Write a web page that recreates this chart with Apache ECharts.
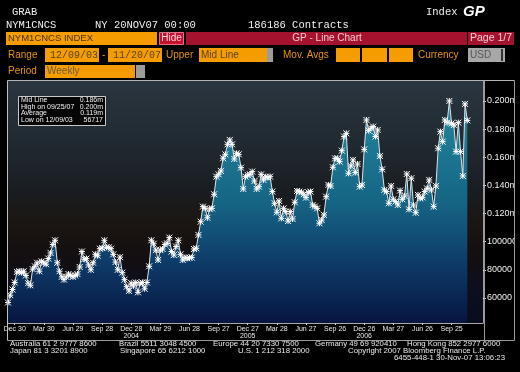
<!DOCTYPE html>
<html><head><meta charset="utf-8">
<script src="https://cdn.jsdelivr.net/npm/echarts@6/dist/echarts.min.js"></script>
<style>html,body{margin:0;padding:0;background:#000;}#c{width:520px;height:372px;}</style>
</head><body><div id="c"></div>
<script>
// ---- data ----
const startDate = '2003-12-09';          // weekly (Tuesday) observations
const axisWeeks = 213;                   // axis extent in weeks (data fills the first 207)
const contracts = [
  56717, 62000, 66000, 71000, 78500, 79000, 78000, 79000, 76000, 70500,
  69000, 80500, 82500, 85000, 79000, 86000, 85000, 84000, 88000, 92000,
  98000, 101000, 85000, 79000, 75000, 73000, 75000, 77000, 76000, 75000,
  76000, 77000, 82000, 93000, 87500, 88000, 83500, 80000, 85000, 91000,
  90000, 95000, 95500, 101000, 96000, 96000, 95000, 91000, 85500, 80000,
  89000, 78000, 73000, 68000, 65000, 70500, 68500, 71000, 64000, 70500,
  71000, 66500, 71000, 82500, 101000, 98500, 94000, 87000, 94000, 94800,
  98000, 98800, 102900, 93000, 90500, 96500, 101000, 91000, 87000, 88700,
  88200, 88700, 88700, 94800, 95300, 104800, 114200, 124900, 123700, 117000,
  123200, 123700, 133700, 146200, 147900, 150300, 159300, 162100, 169200, 172300,
  169200, 158800, 162800, 162100, 152600, 137500, 146200, 147400, 147900, 149800,
  143100, 137500, 139100, 147900, 143900, 146200, 145500, 146200, 135600, 127300,
  120900, 128900, 116600, 123700, 121400, 114700, 121400, 116100, 128000, 136000,
  135600, 135100, 133700, 131300, 135100, 135600, 126100, 125000, 123700, 113100,
  115400, 119000, 132000, 140300, 139600, 152900, 159200, 159200, 156900, 164700,
  174700, 177000, 148600, 153800, 158100, 149100, 155200, 139100, 140300, 165600,
  186500, 178900, 180600, 181800, 174700, 179400, 160900, 151400, 136800, 135600,
  127300, 139600, 130100, 128500, 126100, 136300, 130100, 132500, 148100, 123000,
  145100, 126100, 120600, 133200, 130800, 131500, 135600, 137900, 143900, 136800,
  124900, 139600, 166400, 178200, 171100, 186500, 184600, 200000, 184100, 182900,
  164000, 184600, 164000, 146700, 197900, 186186
];
const xTickFirst = 3, xTickStep = 13;
const xTickLabels = ['Dec 30','Mar 30','Jun 29','Sep 28','Dec 28\n2004','Mar 29','Jun 28','Sep 27',
  'Dec 27\n2005','Mar 28','Jun 27','Sep 26','Dec 26\n2006','Mar 27','Jun 26','Sep 25'];
const yTickValues = [60000, 80000, 100000, 120000, 140000, 160000, 180000, 200000];
const yTickLabels = ['60000','80000','100000','0.120m','0.140m','0.160m','0.180m','0.200m'];
const statsLabels = ['Mid Line','High on 09/25/07','Average','Low on 12/09/03'];
const statsValues = ['0.186m','0.200m','0.119m','56717'];

// ---- categories ----
const weeks = [];
const d0 = new Date(startDate + 'T00:00:00Z');
for (let i = 0; i < axisWeeks; i++) {
  weeks.push(new Date(d0.getTime() + i * 7 * 864e5).toISOString().slice(0, 10));
}
const isTick = (idx) => idx >= xTickFirst && (idx - xTickFirst) % xTickStep === 0 &&
  (idx - xTickFirst) / xTickStep < xTickLabels.length;

const SANS = '"Liberation Sans", Arial, sans-serif';
const MONO = '"Liberation Mono", "DejaVu Sans Mono", monospace';
const ORANGE = '#f49c00', OTXT = '#e8930a', RED = '#a5122d';

function T(x, y, text, opt) {
  opt = opt || {};
  return { type: 'text', x: x, y: y, z: 100, silent: true,
    style: { text: text, font: opt.font || ('10px ' + SANS), fill: opt.fill || '#f0f0f0',
      align: opt.align || 'left', verticalAlign: 'middle' } };
}
function R(x, y, w, h, fill, stroke) {
  return { type: 'rect', z: 90, silent: true, shape: { x: x, y: y, width: w, height: h },
    style: { fill: fill || 'none', stroke: stroke || null, lineWidth: 1 } };
}
function L(x1, y1, x2, y2, c) {
  return { type: 'line', z: 95, silent: true, shape: { x1: x1, y1: y1, x2: x2, y2: y2 },
    style: { stroke: c, lineWidth: 1 } };
}

const g = [];
// header
g.push(T(12, 12, 'GRAB', { font: '10.5px ' + MONO }));
g.push(T(6, 25.5, 'NYM1CNCS', { font: '10.5px ' + MONO }));
g.push(T(95, 25.5, 'NY 20NOV07 00:00', { font: '10.5px ' + MONO }));
g.push(T(248, 25.5, '186186 Contracts', { font: '10.5px ' + MONO }));
g.push(T(426, 12, 'Index', { font: '10.5px ' + MONO }));
g.push(T(463, 12, 'GP', { font: 'italic bold 15px ' + SANS, fill: '#ffffff' }));
// row 1
g.push(R(6, 32, 151, 13, ORANGE));
g.push(T(8, 38.5, 'NYM1CNCS INDEX', { font: '9.5px ' + SANS, fill: '#4a3300' }));
g.push(R(159.5, 32.5, 24, 12, '#c8102e', '#e07080'));
g.push(T(171.5, 38.5, 'Hide', { fill: '#ffd6de', align: 'center' }));
g.push(R(186, 32, 281, 13, RED));
g.push(T(327, 38.5, 'GP - Line Chart', { fill: '#f4c9d2', align: 'center' }));
g.push(R(468, 32, 46, 13, RED));
g.push(T(491, 38.5, 'Page 1/7', { fill: '#f4d0d8', align: 'center', font: '10.5px ' + SANS }));
// row 2
g.push(T(8, 55, 'Range', { fill: OTXT }));
g.push(R(45, 48, 54, 14, ORANGE));
g.push(T(50, 55, '12/09/03', { font: '10px ' + MONO, fill: '#5a4520' }));
g.push(T(102, 55, '-', { fill: OTXT }));
g.push(R(108, 48, 54, 14, ORANGE));
g.push(T(113, 55, '11/20/07', { font: '10px ' + MONO, fill: '#5a4520' }));
g.push(T(166, 55, 'Upper', { fill: OTXT }));
g.push(R(199, 48, 68, 14, ORANGE));
g.push(T(201, 55, 'Mid Line', { fill: '#5a4520' }));
g.push(R(267, 48, 6, 14, '#9c9c9c'));
g.push(T(283, 55, 'Mov. Avgs', { fill: OTXT }));
g.push(R(336, 48, 24, 14, ORANGE));
g.push(R(362, 48, 25, 14, ORANGE));
g.push(R(389, 48, 24, 14, ORANGE));
g.push(T(418, 55, 'Currency', { fill: OTXT }));
g.push(R(468, 48, 37, 14, '#a8a8a8'));
g.push(R(501, 49, 2, 12, '#333'));
g.push(T(470, 55, 'USD', { fill: '#555555' }));
// row 3
g.push(T(8, 71, 'Period', { fill: OTXT }));
g.push(R(45, 65, 90, 13, ORANGE));
g.push(T(47, 71, 'Weekly', { fill: '#6a5a40' }));
g.push(R(136, 65, 9, 13, '#9c9c9c'));
// frame
g.push(R(514.5, 78, 6, 266, '#000'));
g.push(L(7.5, 80.5, 514.5, 80.5, '#b4b4b4'));
g.push(L(7.5, 80.5, 7.5, 340.5, '#c0c0c0'));
g.push(L(484.5, 80.5, 484.5, 340.5, '#9a9a9a'));
g.push(L(514.5, 80.5, 514.5, 340.5, '#9a9a9a'));
g.push(L(7.5, 340.5, 514.5, 340.5, '#9a9a9a'));
// stats box
g.push(Object.assign(R(18.5, 96.5, 87, 29, '#060606', '#c8c8c8'), { z: 110 }));
for (let i = 0; i < statsLabels.length; i++) {
  const y = 100.5 + i * 6.5;
  g.push(Object.assign(T(21, y, statsLabels[i], { font: '7px ' + SANS }), { z: 120 }));
  g.push(Object.assign(T(103, y, statsValues[i], { font: '7px ' + SANS, align: 'right' }), { z: 120 }));
}
// footer
const FF = '7.8px ' + SANS;
[[10, 344, 'Australia 61 2 9777 8600'], [119, 344, 'Brazil 5511 3048 4500'],
 [213, 344, 'Europe 44 20 7330 7500'], [315, 344, 'Germany 49 69 920410'],
 [407, 344, 'Hong Kong 852 2977 6000'],
 [10, 351.3, 'Japan 81 3 3201 8900'], [120, 351.3, 'Singapore 65 6212 1000'],
 [238, 351.3, 'U.S. 1 212 318 2000'], [348, 351.3, 'Copyright 2007 Bloomberg Finance L.P.']
].forEach(a => g.push(T(a[0], a[1], a[2], { font: FF, fill: '#e8e8e8' })));
g.push(T(505, 358.3, '6455-448-1 30-Nov-07 13:06:23', { font: FF, fill: '#e8e8e8', align: 'right' }));

const chart = echarts.init(document.getElementById('c'), null, { renderer: 'canvas' });
chart.setOption({
  backgroundColor: '#000',
  animation: false,
  grid: { left: 8, right: 36, top: 81, bottom: 49, show: true, borderWidth: 0,
    backgroundColor: { type: 'linear', x: 0, y: 0, x2: 0, y2: 1, colorStops: [
      { offset: 0, color: '#2a353f' }, { offset: 0.25, color: '#212a31' },
      { offset: 0.45, color: '#191d22' }, { offset: 0.58, color: '#1b1612' },
      { offset: 0.72, color: '#140f10' }, { offset: 0.86, color: '#0c0f1e' },
      { offset: 1, color: '#080c1c' } ] } },
  xAxis: {
    type: 'category', data: weeks, boundaryGap: false,
    axisLine: { lineStyle: { color: '#a8a8a8', width: 1 } },
    axisTick: { interval: (i) => isTick(i), length: 2, lineStyle: { color: '#d0d0d0' } },
    axisLabel: { interval: (i) => isTick(i), formatter: (v, i) => xTickLabels[(i - xTickFirst) / xTickStep],
      color: '#e8e8e8', fontSize: 7, fontFamily: SANS, lineHeight: 7.5, margin: 2 },
    splitLine: { show: false }
  },
  yAxis: {
    type: 'value', position: 'right', min: 42200, max: 214200,
    axisLine: { show: true, lineStyle: { color: '#9a9a9a' } },
    axisTick: { show: true, customValues: yTickValues, length: 3, lineStyle: { color: '#e0e0e0' } },
    axisLabel: { customValues: yTickValues, formatter: (v) => yTickLabels[yTickValues.indexOf(v)],
      color: '#f0f0f0', fontSize: 9, fontFamily: SANS, margin: 4 },
    splitLine: { show: false }
  },
  series: [{
    type: 'line', data: contracts, showAllSymbol: true,
    symbol: 'path://M0,0L8,8M8,0L0,8M4,0L4,8M0,4L8,4', symbolSize: 6,
    itemStyle: { color: '#ffffff', borderColor: '#ffffff', borderWidth: 1 },
    lineStyle: { color: '#dde4e8', width: 1 },
    areaStyle: { opacity: 1, color: { type: 'linear', x: 0, y: 0, x2: 0, y2: 1, colorStops: [
      { offset: 0, color: '#21869e' }, { offset: 0.2, color: '#1d7893' },
      { offset: 0.45, color: '#166585' }, { offset: 0.6, color: '#124f77' },
      { offset: 0.75, color: '#0d3866' }, { offset: 0.88, color: '#0a2652' },
      { offset: 1, color: '#061640' } ] } }
  }],
  graphic: { elements: g }
});
</script>
</body></html>
